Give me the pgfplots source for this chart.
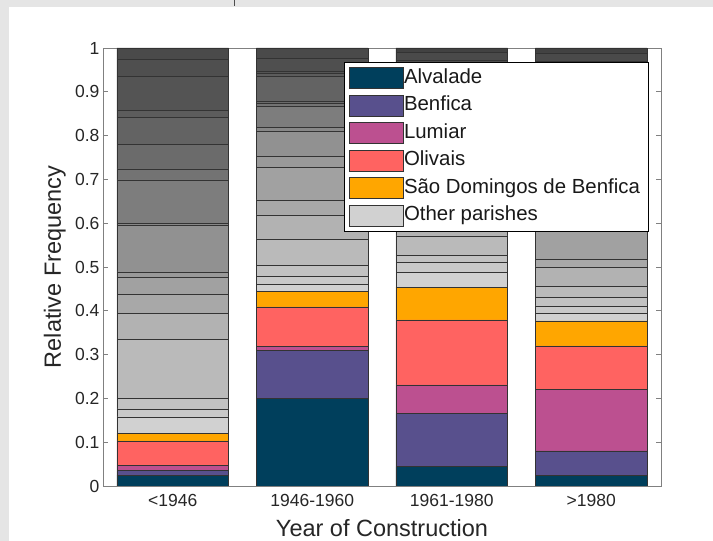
\documentclass[border=0pt]{standalone}
\usepackage{fontspec}
\setmainfont{Liberation Sans}
\usepackage{pgfplots}
\usepackage{pgfplotstable}
\pgfplotsset{compat=1.18}

\definecolor{alvalade}{HTML}{003F5C}
\definecolor{benfica}{HTML}{58508D}
\definecolor{lumiar}{HTML}{BC5090}
\definecolor{olivais}{HTML}{FF6361}
\definecolor{sdb}{HTML}{FFA600}

% Relative frequency of buildings per parish, by construction period.
% A B L O S = named parishes, g1..g19 = remaining parishes (bottom to top)
\pgfplotstableread{
x A     B     L     O     S     g1    g2    g3    g4    g5    g6    g7    g8    g9    g10   g11   g12   g13   g14   g15   g16   g17   g18   g19
1 0.025 0.010 0.012 0.056 0.017 0.038 0.018 0.024 0.135 0.059 0.043 0.039 0.013 0.106 0.005 0.099 0.025 0.056 0.061 0.017 0.078 0.039 0.025 0.000
2 0.200 0.109 0.009 0.091 0.035 0.016 0.018 0.025 0.061 0.055 0.034 0.074 0.026 0.058 0.008 0.047 0.008 0.005 0.057 0.006 0.006 0.028 0.024 0.000
3 0.044 0.122 0.065 0.148 0.075 0.033 0.023 0.017 0.044 0.029 0.025 0.035 0.030 0.030 0.040 0.040 0.040 0.030 0.030 0.030 0.025 0.018 0.017 0.010
4 0.025 0.055 0.141 0.099 0.057 0.017 0.017 0.020 0.024 0.045 0.018 0.082 0.040 0.040 0.040 0.040 0.040 0.040 0.040 0.040 0.030 0.019 0.020 0.011
}\freq

\begin{document}
\begin{tikzpicture}
\useasboundingbox (0,0) rectangle (713bp,541bp);
\fill[black!10] (0,0) rectangle (713bp,541bp);
\fill[white] (9bp,0) rectangle (713bp,534bp);
\draw[black!70, line width=0.8bp] (234bp,535bp) -- (234bp,541bp);
\begin{axis}[
  at={(103bp,55bp)}, anchor=south west,
  scale only axis, width=558bp, height=438bp,
  xmin=0.5, xmax=4.5, ymin=0, ymax=1,
  ybar stacked, bar width=0.8,
  xtick={1,2,3,4},
  xticklabels={<1946,1946-1960,1961-1980,>1980},
  xtick style={draw=none},
  ytick={0,0.1,0.2,0.3,0.4,0.5,0.6,0.7,0.8,0.9,1},
  yticklabels={0,0.1,0.2,0.3,0.4,0.5,0.6,0.7,0.8,0.9,1},
  tick align=inside, major tick length=5bp,
  ytick pos=both,
  axis line style={black!50, line width=0.6bp},
  every tick/.style={black!50, line width=0.6bp},
  tick label style={font=\fontsize{17.5bp}{20bp}\selectfont, text=black!85},
  /pgf/number format/assume math mode=true,
  xticklabel style={yshift=-5bp},
  xlabel={Year of Construction},
  xlabel style={at={(axis description cs:0.5,-0.1164)}, anchor=base,
    font=\fontsize{23.5bp}{28bp}\selectfont, text=black!85},
  ylabel={Relative Frequency},
  ylabel style={at={(axis description cs:-0.0753,0.5)}, anchor=base,
    font=\fontsize{23.5bp}{28bp}\selectfont, text=black!85},
  every axis plot/.append style={draw=black!80, line width=0.5bp},
  legend image code/.code={\draw[#1] (0bp,-10.5bp) rectangle (54bp,10.5bp);},
  legend cell align=left,
  legend style={at={(rel axis cs:0.977,0.968)}, anchor=north east,
    draw=black, line width=0.5bp, fill=white,
    font=\fontsize{20.4bp}{24bp}\selectfont, text=black!90,
    inner xsep=4bp, inner ysep=2bp, row sep=0bp,
    nodes={inner xsep=0bp, inner ysep=4bp, text height=15bp, text depth=4.5bp},
    /tikz/every odd column/.append style={column sep=1bp}},
]
\addplot[fill=alvalade] table[x=x,y=A]{\freq};
\addplot[fill=benfica]  table[x=x,y=B]{\freq};
\addplot[fill=lumiar]   table[x=x,y=L]{\freq};
\addplot[fill=olivais]  table[x=x,y=O]{\freq};
\addplot[fill=sdb]      table[x=x,y=S]{\freq};
\addplot[fill=black!18] table[x=x,y=g1]{\freq};
\addplot[fill=black!21] table[x=x,y=g2]{\freq};
\addplot[fill=black!24] table[x=x,y=g3]{\freq};
\addplot[fill=black!27] table[x=x,y=g4]{\freq};
\addplot[fill=black!30] table[x=x,y=g5]{\freq};
\addplot[fill=black!34] table[x=x,y=g6]{\freq};
\addplot[fill=black!37] table[x=x,y=g7]{\freq};
\addplot[fill=black!40] table[x=x,y=g8]{\freq};
\addplot[fill=black!43] table[x=x,y=g9]{\freq};
\addplot[fill=black!47] table[x=x,y=g10]{\freq};
\addplot[fill=black!51] table[x=x,y=g11]{\freq};
\addplot[fill=black!55] table[x=x,y=g12]{\freq};
\addplot[fill=black!58] table[x=x,y=g13]{\freq};
\addplot[fill=black!61] table[x=x,y=g14]{\freq};
\addplot[fill=black!64] table[x=x,y=g15]{\freq};
\addplot[fill=black!67] table[x=x,y=g16]{\freq};
\addplot[fill=black!69] table[x=x,y=g17]{\freq};
\addplot[fill=black!71] table[x=x,y=g18]{\freq};
\addplot[fill=black!74] table[x=x,y=g19]{\freq};
\legend{Alvalade,Benfica,Lumiar,Olivais,São Domingos de Benfica\hspace*{4bp},Other parishes}
\end{axis}
\end{tikzpicture}
\end{document}
